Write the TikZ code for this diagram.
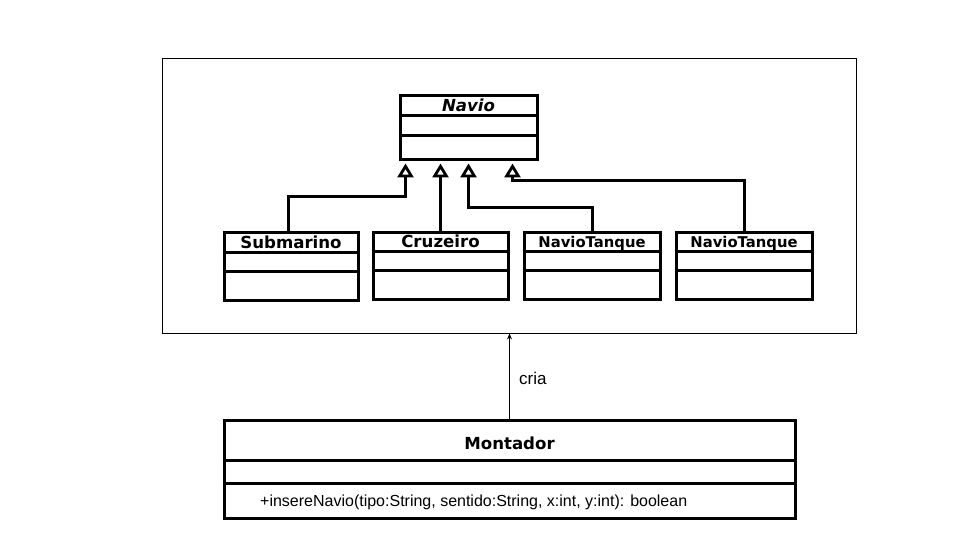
\documentclass[tikz,border=0pt]{standalone}
\usepackage{fontspec}
\setmainfont{Liberation Sans}
\newfontfamily\titlefont{DejaVu Sans}
\usetikzlibrary{arrows.meta,calc}
\begin{document}
\begin{tikzpicture}[x=1pt,y=-1pt,
  classbox/.style={draw,line width=3pt,inner sep=0pt},
  frm/.style={draw,line width=0.9pt,inner sep=0pt},
  divline/.style={line width=3pt},
  ttl/.style={font=\titlefont\bfseries\fontsize{16.6}{19}\selectfont,inner sep=0pt,anchor=base},
  ttlsmall/.style={font=\titlefont\bfseries\fontsize{14.8}{17}\selectfont,inner sep=0pt,anchor=base},
  inh/.style={line width=3pt,-{Triangle[open,width=16pt,length=14pt,line width=2.8pt]}},
  dep/.style={line width=0.9pt,-{Stealth[width=5pt,length=6pt]}},
  lbl/.style={font=\fontsize{17}{19}\selectfont,inner sep=0pt}
]
\useasboundingbox (0,0) rectangle (960,540);
\fill[white] (0,0) rectangle (960,540);

% frame
\node[frm,minimum width=694pt,minimum height=275pt] (frame) at (509,195.5) {};

% Navio
\node[classbox,minimum width=137pt,minimum height=64pt] (navio) at (468.5,128) {};
\draw[divline] ($(navio.north west)+(0,21)$) -- ($(navio.north east)+(0,21)$);
\draw[divline] ($(navio.north west)+(0,41)$) -- ($(navio.north east)+(0,41)$);
\node[ttl,font=\titlefont\bfseries\itshape\fontsize{16.6}{19}\selectfont] (navioT) at (468.5,112) {Navio};

% Submarino
\node[classbox,minimum width=134pt,minimum height=68pt] (sub) at (291,266) {};
\draw[divline] ($(sub.north west)+(0,21.5)$) -- ($(sub.north east)+(0,21.5)$);
\draw[divline] ($(sub.north west)+(0,41)$) -- ($(sub.north east)+(0,41)$);
\node[ttl] (subT) at (291,248) {Submarino};

% Cruzeiro
\node[classbox,minimum width=135pt,minimum height=67pt] (cru) at (440.5,265.5) {};
\draw[divline] ($(cru.north west)+(0,21)$) -- ($(cru.north east)+(0,21)$);
\draw[divline] ($(cru.north west)+(0,40)$) -- ($(cru.north east)+(0,40)$);
\node[ttl] (cruT) at (440.5,247.5) {Cruzeiro};

% NavioTanque 1
\node[classbox,minimum width=136pt,minimum height=67pt] (nt1) at (592,265.5) {};
\draw[divline] ($(nt1.north west)+(0,21)$) -- ($(nt1.north east)+(0,21)$);
\draw[divline] ($(nt1.north west)+(0,40)$) -- ($(nt1.north east)+(0,40)$);
\node[ttlsmall] (nt1T) at (592,247) {NavioTanque};

% NavioTanque 2
\node[classbox,minimum width=136pt,minimum height=67pt] (nt2) at (744,265.5) {};
\draw[divline] ($(nt2.north west)+(0,21)$) -- ($(nt2.north east)+(0,21)$);
\draw[divline] ($(nt2.north west)+(0,40)$) -- ($(nt2.north east)+(0,40)$);
\node[ttlsmall] (nt2T) at (744,247) {NavioTanque};

% attach points on Navio
\coordinate (a1) at ($(navio.south west)+(7,2)$);
\coordinate (a2) at ($(navio.south west)+(41,2)$);
\coordinate (a3) at ($(navio.south west)+(70,2)$);
\coordinate (a4) at ($(navio.south west)+(114,2)$);

% generalizations
\draw[inh] ([xshift=-3pt]sub.north) |- ($(a1)+(0,33)$) -- (a1);
\draw[inh] (cru.north) -- (cru.north |- a2);
\draw[inh] (nt1.north) |- ($(a3)+(0,44)$) -- (a3);
\draw[inh] (nt2.north) |- ($(a4)+(0,17)$) -- (a4);

% Montador
\node[classbox,minimum width=571pt,minimum height=98pt] (mont) at (509.5,469) {};
\draw[divline] ($(mont.north west)+(0,42)$) -- ($(mont.north east)+(0,42)$);
\draw[divline] ($(mont.north west)+(0,65)$) -- ($(mont.north east)+(0,65)$);
\node[ttl] (montT) at (509.5,449) {Montador};
\node[lbl,anchor=west,font=\fontsize{16}{18}\selectfont] (meth) at (260,502) {+insereNavio(tipo:String, sentido:String, x:int, y:int): boolean};

% cria
\draw[dep] (mont.north) -- (mont.north |- frame.south);
\node[lbl,anchor=west] (cria) at (519,378) {cria};
\end{tikzpicture}
\end{document}
